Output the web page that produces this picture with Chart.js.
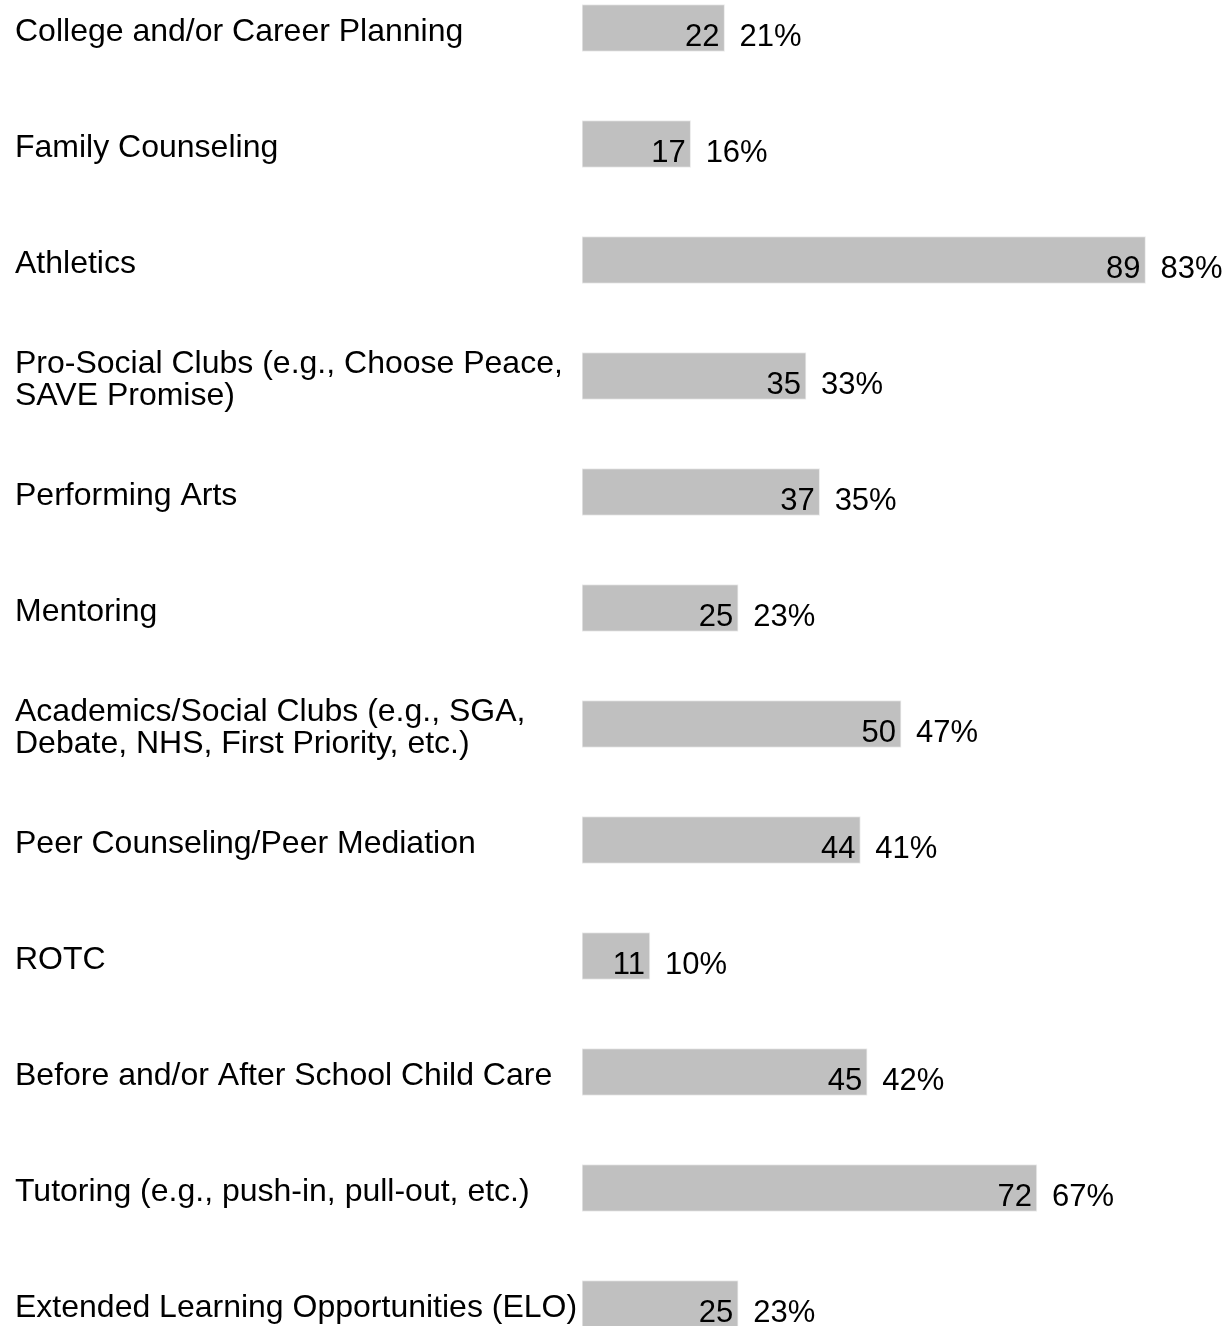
<!DOCTYPE html>
<html>
<head>
<meta charset="utf-8">
<script src="https://cdn.jsdelivr.net/npm/chart.js@4/dist/chart.umd.min.js"></script>
<style>
  html, body { margin: 0; padding: 0; background: #fff; overflow: hidden; }
  #wrap { position: relative; width: 1228px; height: 1424px; margin-top: -46px; }
</style>
</head>
<body>
<div id="wrap"><canvas id="chart" width="1228" height="1424"></canvas></div>
<script>
// programs and how many responded (count) / share (percent)
const categories = [
  'College and/or Career Planning',
  'Family Counseling',
  'Athletics',
  ['Pro-Social Clubs (e.g., Choose Peace,', 'SAVE Promise)'],
  'Performing Arts',
  'Mentoring',
  ['Academics/Social Clubs (e.g., SGA,', 'Debate, NHS, First Priority, etc.)'],
  'Peer Counseling/Peer Mediation',
  'ROTC',
  'Before and/or After School Child Care',
  'Tutoring (e.g., push-in, pull-out, etc.)',
  'Extended Learning Opportunities (ELO)'
];
const counts = [22, 17, 89, 35, 37, 25, 50, 44, 11, 45, 72, 25];
const percents = [21, 16, 83, 33, 35, 23, 47, 41, 10, 42, 67, 23];

const FONT = '"Liberation Sans", Arial, sans-serif';

// draws "count" inside the bar end and "pct%" just after it
const valueLabels = {
  id: 'valueLabels',
  afterDatasetsDraw(chart) {
    const ctx = chart.ctx;
    const meta = chart.getDatasetMeta(0);
    ctx.save();
    ctx.font = '31px ' + FONT;
    ctx.fillStyle = '#000';
    ctx.textBaseline = 'alphabetic';
    meta.data.forEach((bar, i) => {
      ctx.textAlign = 'right';
      ctx.fillText(String(counts[i]), bar.x - 5, bar.y + 18);
      ctx.textAlign = 'left';
      ctx.fillText(percents[i] + '%', bar.x + 15, bar.y + 18);
    });
    ctx.restore();
  }
};

new Chart(document.getElementById('chart'), {
  type: 'bar',
  data: {
    labels: categories,
    datasets: [{
      data: percents,
      backgroundColor: '#c0c0c0',
      borderColor: '#ececec',
      borderWidth: 1,
      borderSkipped: false,
      barThickness: 47
    }]
  },
  options: {
    indexAxis: 'y',
    responsive: false,
    animation: false,
    devicePixelRatio: 1,
    layout: { padding: { left: 15, right: 1, top: 0, bottom: 0 } },
    plugins: { legend: { display: false }, tooltip: { enabled: false } },
    scales: {
      x: { display: false, min: 0, max: 95 },
      y: {
        grid: { display: false },
        border: { display: false },
        ticks: {
          crossAlign: 'far',
          color: '#000',
          font: { family: FONT, size: 32, lineHeight: 1.0 },
          padding: 0,
          labelOffset: 4
        },
        afterFit(scale) { scale.width = 567; }
      }
    }
  },
  plugins: [valueLabels]
});
</script>
</body>
</html>
